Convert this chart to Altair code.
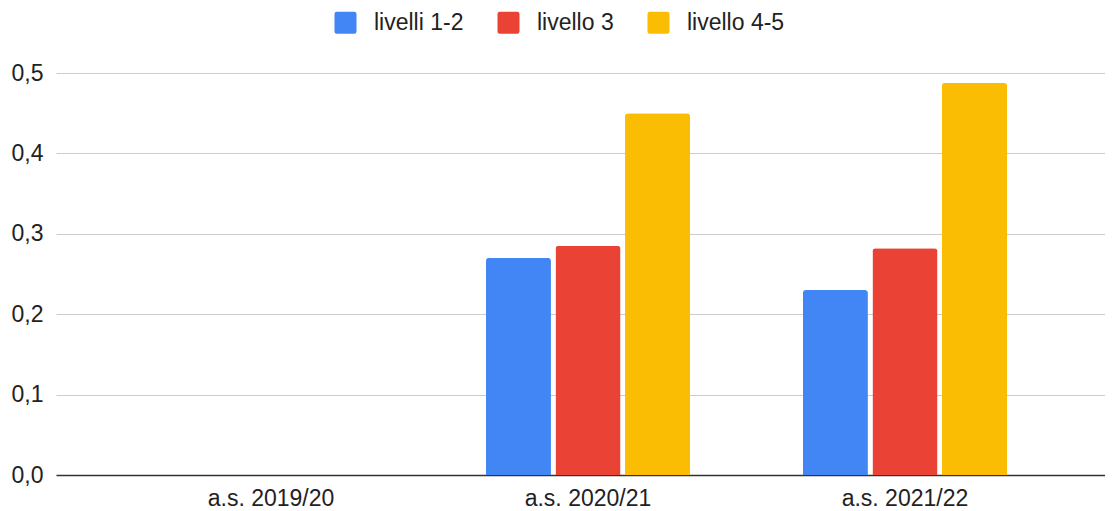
import altair as alt
import pandas as pd

categories = ["a.s. 2019/20", "a.s. 2020/21", "a.s. 2021/22"]
series = ["livelli 1-2", "livello 3", "livello 4-5"]
values = {
    "livelli 1-2": [None, 0.27, 0.23],
    "livello 3": [None, 0.285, 0.282],
    "livello 4-5": [None, 0.45, 0.488],
}
colors = ["#4285F4", "#EA4335", "#FBBC04"]
y_ticks = [0.0, 0.1, 0.2, 0.3, 0.4, 0.5]

rows = []
for s in series:
    for c, v in zip(categories, values[s]):
        if v is not None:
            rows.append({"anno": c, "serie": s, "valore": v})
df = pd.DataFrame(rows)

FONT = "Liberation Sans, Arial, sans-serif"
rounded_square = "M-0.8,-1H0.8Q1,-1 1,-0.8V0.8Q1,1 0.8,1H-0.8Q-1,1 -1,0.8V-0.8Q-1,-1 -0.8,-1Z"

chart = alt.Chart(df).mark_bar(
    cornerRadiusTopLeft=3, cornerRadiusTopRight=3
).encode(
    x=alt.X(
        "anno:N",
        scale=alt.Scale(domain=categories, paddingInner=0.356, paddingOuter=0.3328, align=0.5355),
        axis=alt.Axis(
            title=None, labelAngle=0, ticks=False, tickSize=0, labelPadding=12,
            labelFontSize=23, labelColor="#222222", labelFont=FONT,
            domainColor="#333333", domainWidth=1.5, grid=False,
        ),
    ),
    xOffset=alt.XOffset(
        "serie:N",
        scale=alt.Scale(domain=series, paddingInner=0.065, paddingOuter=0),
    ),
    y=alt.Y(
        "valore:Q",
        scale=alt.Scale(domain=[0, 0.5], nice=False),
        axis=alt.Axis(
            title=None, values=y_ticks, domain=False, ticks=False, tickSize=0,
            labelPadding=13, labelFontSize=23, labelColor="#222222", labelFont=FONT,
            labelExpr="replace(format(datum.value, '.1f'), '.', ',')",
            gridColor="#cccccc", gridWidth=1,
        ),
    ),
    color=alt.Color(
        "serie:N",
        scale=alt.Scale(domain=series, range=colors),
        legend=alt.Legend(
            title=None, orient="none", direction="horizontal",
            legendX=278, legendY=-62, padding=0,
            symbolType=rounded_square, symbolSize=484, symbolStrokeWidth=0,
            symbolOpacity=1, labelFontSize=23, labelColor="#222222",
            labelFont=FONT, labelOffset=17, columnPadding=33,
        ),
    ),
).properties(
    width=1049,
    height=402,
    autosize=alt.AutoSizeParams(type="none"),
    padding={"left": 48, "top": 65, "right": 0, "bottom": 34},
).configure_view(
    stroke=None
)

chart.save("out.html", embed_options={"renderer": "svg", "actions": False})
